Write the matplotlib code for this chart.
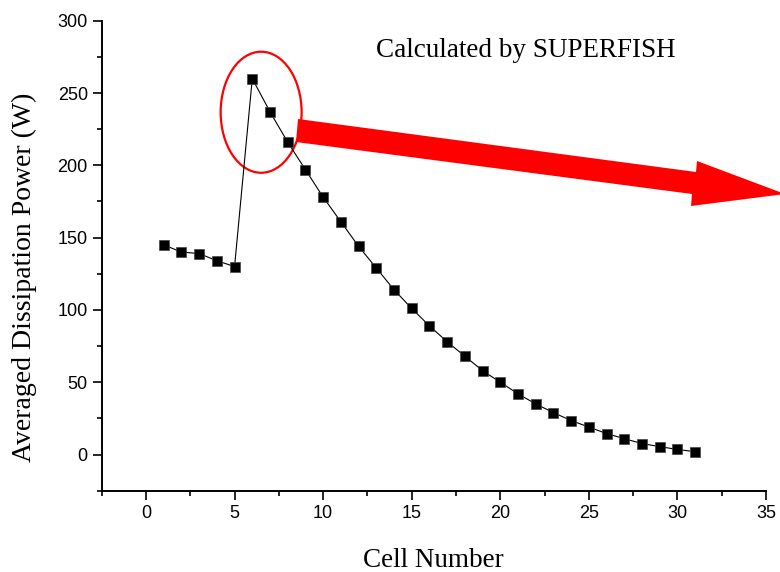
import numpy as np
from matplotlib import pyplot as plt
from matplotlib.patches import Ellipse, Polygon
from matplotlib.ticker import MultipleLocator

cells = list(range(1, 32))
power = [145, 140, 139, 134, 130, 260, 237, 216, 197, 178, 161, 144, 129, 114,
         101, 89, 78, 68, 58, 50, 42, 35, 29, 23.5, 19, 14.5, 11, 7.6, 5.5, 3.5, 2]

xticks = [0, 5, 10, 15, 20, 25, 30, 35]
yticks = [0, 50, 100, 150, 200, 250, 300]

W, H = 780, 572
fig = plt.figure(figsize=(7.8, 5.72), dpi=100)
ax = fig.add_axes([101.7/W, 1-490.7/H, (766-101.7)/W, (490.7-20.7)/H])

ax.plot(cells, power, color='black', lw=0.8, marker='s', ms=7,
        mfc='black', mec='#444444', mew=0.5)

ax.set_xlim(-2.5, 35)
ax.set_ylim(-25, 300)
ax.set_xticks(xticks)
ax.set_yticks(yticks)
ax.xaxis.set_minor_locator(MultipleLocator(2.5))
ax.yaxis.set_minor_locator(MultipleLocator(25))
for s in ['top', 'right']:
  ax.spines[s].set_visible(False)
for s in ['left', 'bottom']:
  ax.spines[s].set_linewidth(1.4)
ax.tick_params(which='major', direction='out', length=6.5, width=1.2,
               labelsize=13, labelfontfamily='Liberation Sans')
ax.tick_params(which='minor', direction='out', length=3.5, width=1.2)

ax.set_xlabel('Cell Number', family='Liberation Serif', fontsize=19.5, va='baseline')
ax.xaxis.set_label_coords(0.4987, -0.162)
ax.set_ylabel('Averaged Dissipation Power (W)', family='Liberation Serif',
              fontsize=20, va='bottom')
ax.yaxis.set_label_coords(-0.098, 0.4536)

fig.text(0.674, 0.911, 'Calculated by SUPERFISH', family='Liberation Serif',
         fontsize=19.5, ha='center', va='center')

ax.add_patch(Ellipse((6.5, 236.7), 4.57, 83.7, fill=False, ec='red', lw=1.6))

pts = [(298, 119), (696, 172), (697, 161), (785, 194), (691, 206), (692, 194), (296, 142)]
arrow = Polygon([(x/W, 1-y/H) for x, y in pts], closed=True, fc='red', ec='none',
                transform=fig.transFigure, clip_on=False)
fig.patches.append(arrow)

fig.savefig('out.png', dpi=100)
